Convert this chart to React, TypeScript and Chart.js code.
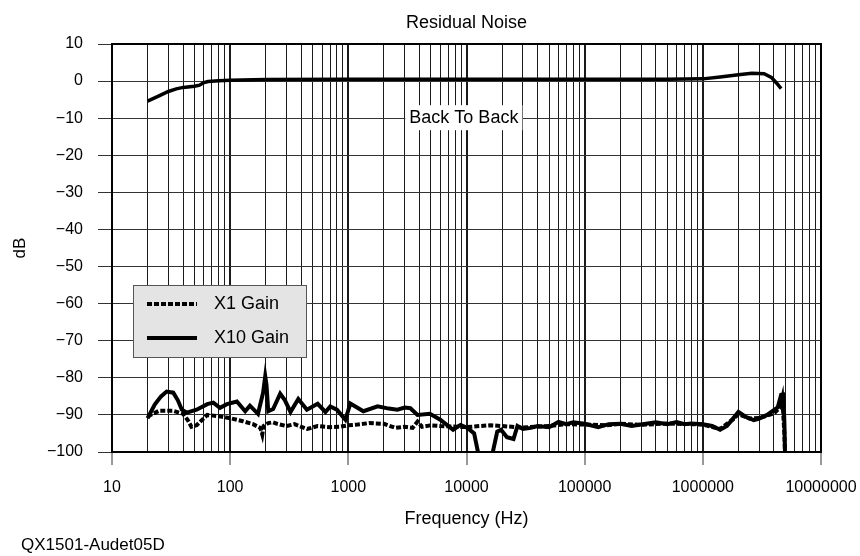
import React, { useEffect, useRef } from "react";
import { Chart, registerables } from "chart.js";

Chart.register(...registerables);

const FONT = "'Liberation Sans', Arial, Helvetica, sans-serif";

const chartTitle = "Residual Noise";
const xAxisTitle = "Frequency (Hz)";
const yAxisTitle = "dB";
const footerText = "QX1501-Audet05D";
const backLabel = "Back To Back";
const backLabelFreq = 9500;
const backLabelDb = -10;

const decades = [10, 100, 1000, 10000, 100000, 1000000, 10000000];
const xTickLabels = ["10", "100", "1000", "10000", "100000", "1000000", "10000000"];
const minorSteps = [1, 2, 3, 4, 5, 6, 7, 8, 9];
const yMin = -100;
const yMax = 10;
const yStep = 10;

// Back To Back (top trace)
const backFreq = [20, 25, 30, 35, 40, 50, 55, 60, 65, 80, 100, 200, 1000, 10000, 100000, 500000, 1000000, 1400000, 2000000, 2600000, 3300000, 3800000, 4200000, 4600000];
const backDb = [-5.4, -4.0, -2.8, -2.1, -1.7, -1.4, -1.1, -0.4, -0.1, 0.1, 0.2, 0.4, 0.5, 0.5, 0.5, 0.5, 0.6, 1.1, 1.7, 2.1, 2.0, 1.0, -0.5, -2.0];

// X1 Gain noise (dashed)
const x1Freq = [20, 25, 33, 40, 44, 47, 52, 64, 82, 100, 128, 156, 180, 187, 192, 210, 231, 250, 300, 350, 450, 550, 700, 850, 1000, 1200, 1500, 2000, 2500, 3000, 3500, 3850, 4200, 5000, 6000, 8400, 10000, 13000, 16000, 20000, 30000, 50000, 70000, 100000, 150000, 200000, 300000, 500000, 800000, 1000000, 1400000, 1800000, 2000000, 2500000, 3000000, 3500000, 4000000, 4500000, 4700000, 4900000, 5000000];
const x1Db = [-90.4, -88.9, -88.9, -89.7, -91.5, -93.2, -92.8, -90, -90.4, -90.9, -91.7, -92.5, -93.5, -95.3, -93, -92.2, -92, -92.4, -93, -92.5, -93.8, -93, -93.3, -93.2, -92.8, -92.6, -92.2, -92.4, -93.5, -93.2, -93.5, -91.8, -93.2, -92.8, -93, -93.2, -93.3, -93, -92.8, -93, -93.4, -93, -92.5, -92.6, -92.8, -92.4, -92.7, -92.3, -92.5, -92.6, -93.8, -91.2, -89.8, -91, -90.8, -90.2, -89.6, -88, -85.5, -95, -104];

// X10 Gain noise (solid)
const x10Freq = [20, 23, 26, 29, 33, 36, 39, 43, 52, 64, 72, 82, 94, 114, 134, 147, 172, 190, 198, 203, 210, 231, 265, 290, 324, 377, 446, 550, 640, 703, 800, 944, 1040, 1340, 1770, 2200, 2600, 3000, 3350, 3850, 4900, 6000, 7700, 8900, 10200, 11600, 12600, 13500, 16000, 16700, 18200, 19600, 22000, 25000, 27000, 30000, 35000, 40000, 50000, 60000, 70000, 80000, 100000, 130000, 160000, 200000, 250000, 300000, 400000, 500000, 600000, 700000, 800000, 1000000, 1200000, 1400000, 1600000, 1800000, 2000000, 2300000, 2700000, 3000000, 3500000, 3800000, 4300000, 4600000, 4800000, 4900000, 5000000];
const x10Db = [-90.9, -87.2, -85, -83.7, -84, -86, -88.6, -89.4, -88.6, -87.1, -86.7, -88.1, -87.1, -86.4, -89, -87.5, -89.7, -84, -79.6, -82, -89, -88.4, -84.3, -86, -89.2, -85.7, -88.6, -87, -89.2, -87.7, -88.6, -91.3, -86.9, -89, -87.7, -88.3, -88.6, -88, -88.2, -90, -89.7, -91.3, -94, -92.7, -93.5, -95, -100.5, -106, -106, -100, -94.5, -94, -96, -96.5, -93, -93.8, -93.5, -93, -93.3, -91.9, -92.5, -92, -92.4, -93.3, -92.5, -92.4, -93, -92.6, -92, -92.5, -91.9, -92.5, -92.3, -92.5, -93, -94, -93, -91, -89.2, -90.5, -91.4, -91, -90, -89.2, -88, -84.6, -84.5, -92, -106];

const legendLabels = ["X1 Gain", "X10 Gain"];

const toPoints = (xs: number[], ys: number[]) => xs.map((x, i) => ({ x, y: ys[i] }));

const isDecade = (v: number) => {
  const l = Math.log10(v);
  return Math.abs(l - Math.round(l)) < 1e-6;
};

const decorPlugin = {
  id: "decor",
  afterDraw(chart: any) {
    const { ctx, chartArea: a, scales } = chart;
    const xs = scales.x;
    const ys = scales.y;
    ctx.save();
    // frame
    ctx.strokeStyle = "#000";
    ctx.lineWidth = 2;
    ctx.strokeRect(a.left, a.top, a.right - a.left, a.bottom - a.top);

    // title
    ctx.fillStyle = "#000";
    ctx.font = `18px ${FONT}`;
    ctx.textAlign = "center";
    ctx.textBaseline = "middle";
    ctx.fillText(chartTitle, (a.left + a.right) / 2, 23);

    // footer
    ctx.font = `17px ${FONT}`;
    ctx.textAlign = "left";
    ctx.fillText(footerText, 21, 545);

    // Back To Back label
    ctx.font = `18px ${FONT}`;
    const bx = xs.getPixelForValue(backLabelFreq);
    const by = ys.getPixelForValue(backLabelDb);
    const tw = ctx.measureText(backLabel).width;
    ctx.fillStyle = "#fff";
    ctx.fillRect(bx - tw / 2 - 4, by - 13, tw + 8, 25);
    ctx.fillStyle = "#000";
    ctx.textAlign = "center";
    ctx.fillText(backLabel, bx, by);

    // legend
    const lx = 133, ly = 285, lw = 173, lh = 72;
    ctx.fillStyle = "#e4e4e4";
    ctx.fillRect(lx, ly, lw, lh);
    ctx.strokeStyle = "#555";
    ctx.lineWidth = 1;
    ctx.strokeRect(lx + 0.5, ly + 0.5, lw, lh);
    const rows = [304, 338];
    legendLabels.forEach((lab, i) => {
      const ds = chart.data.datasets.find((d: any) => d.label === lab);
      if (!ds) return;
      const y = rows[i];
      ctx.beginPath();
      ctx.strokeStyle = ds.borderColor;
      ctx.lineWidth = ds.borderWidth;
      ctx.setLineDash(ds.borderDash || []);
      ctx.moveTo(147, y);
      ctx.lineTo(197, y);
      ctx.stroke();
      ctx.setLineDash([]);
      ctx.fillStyle = "#000";
      ctx.font = `18px ${FONT}`;
      ctx.textAlign = "left";
      ctx.textBaseline = "middle";
      ctx.fillText(lab, 214, y);
    });
    ctx.restore();
  },
};

export default function App() {
  const ref = useRef<HTMLCanvasElement | null>(null);
  useEffect(() => {
    if (!ref.current) return;
    const xGridValues: number[] = [];
    decades.forEach((d, i) => {
      if (i === decades.length - 1) {
        xGridValues.push(d);
      } else {
        minorSteps.forEach((m) => xGridValues.push(d * m));
      }
    });
    const chart = new Chart(ref.current, {
      type: "line",
      data: {
        datasets: [
          {
            label: "Back To Back",
            data: toPoints(backFreq, backDb),
            borderColor: "#000",
            borderWidth: 3.5,
            pointRadius: 0,
            tension: 0,
          },
          {
            label: "X1 Gain",
            data: toPoints(x1Freq, x1Db),
            borderColor: "#000",
            borderWidth: 4,
            borderDash: [5, 2],
            pointRadius: 0,
            tension: 0,
          },
          {
            label: "X10 Gain",
            data: toPoints(x10Freq, x10Db),
            borderColor: "#000",
            borderWidth: 4,
            pointRadius: 0,
            tension: 0,
          },
        ],
      },
      options: {
        animation: false,
        responsive: false,
        devicePixelRatio: 1,
        layout: { padding: { top: 44, right: 39, left: 0, bottom: 0 } },
        plugins: {
          legend: { display: false },
          title: { display: false },
          tooltip: { enabled: false },
        },
        scales: {
          x: {
            type: "logarithmic",
            min: 10,
            max: 10000000,
            afterBuildTicks: (scale: any) => {
              scale.ticks = xGridValues.map((v) => ({ value: v }));
            },
            afterFit: (scale: any) => {
              scale.height = 104;
              scale.paddingLeft = 0;
              scale.paddingRight = 0;
            },
            ticks: {
              autoSkip: false,
              maxRotation: 0,
              minRotation: 0,
              padding: 13,
              color: "#000",
              font: { family: FONT, size: 16 },
              callback: (v: any) => {
                const idx = decades.findIndex((d) => Math.abs(d - Number(v)) < 1e-6 * d);
                return idx >= 0 ? xTickLabels[idx] : "";
              },
            },
            grid: {
              color: "#1a1a1a",
              lineWidth: (c: any) => (c.tick && isDecade(c.tick.value) ? 2 : 1),
              tickColor: (c: any) => (c.tick && isDecade(c.tick.value) ? "#333" : "rgba(0,0,0,0)"),
              tickWidth: 1,
              tickLength: 13,
            },
            border: { display: false },
            title: {
              display: true,
              text: xAxisTitle,
              color: "#000",
              font: { family: FONT, size: 18 },
              padding: { top: 0, bottom: 26 },
            },
          },
          y: {
            type: "linear",
            min: yMin,
            max: yMax,
            afterFit: (scale: any) => {
              scale.width = 112;
              scale.paddingTop = 0;
              scale.paddingBottom = 0;
            },
            ticks: {
              stepSize: yStep,
              padding: 15,
              color: "#000",
              font: { family: FONT, size: 16 },
              callback: (v: any) => (Number(v) < 0 ? "\u2212" + Math.abs(Number(v)) : String(v)),
            },
            grid: {
              color: "#333",
              lineWidth: 1,
              tickLength: 14,
            },
            border: { display: false },
            title: {
              display: true,
              text: yAxisTitle,
              color: "#000",
              font: { family: FONT, size: 17 },
              padding: { top: 10, bottom: 0 },
            },
          },
        },
      },
      plugins: [decorPlugin],
    } as any);
    return () => chart.destroy();
  }, []);
  return (
    <div style={{ position: "fixed", left: 0, top: 0, width: 860, height: 556, background: "#fff" }}>
      <canvas ref={ref} width={860} height={556} style={{ display: "block" }} />
    </div>
  );
}
